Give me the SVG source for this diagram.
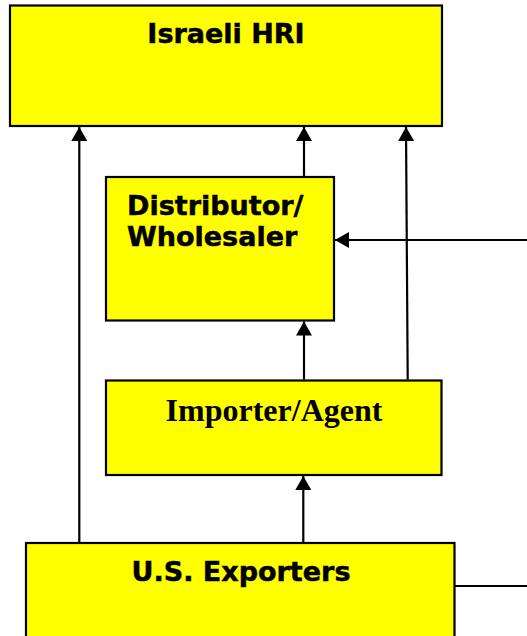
<svg xmlns="http://www.w3.org/2000/svg" width="527" height="636" viewBox="0 0 527 636">
<style>
.box{fill:#ffff00;stroke:#000;stroke-width:2.2}
.v{font-family:"DejaVu Sans",Verdana,sans-serif;font-weight:bold;font-size:27px;fill:#000;stroke:#000;stroke-width:0.5}
.t{font-family:"Liberation Serif","Times New Roman",serif;font-weight:bold;font-size:32px;fill:#000}
.c{stroke:#000;stroke-width:2.2;fill:none}
</style>
<defs>
<marker id="ah" viewBox="0 0 14 16" refX="14" refY="8" markerWidth="14" markerHeight="16" markerUnits="userSpaceOnUse" orient="auto">
<path d="M0,0 L14,8 L0,16 Z" fill="#000"/>
</marker>
</defs>
<rect width="527" height="636" fill="#fff"/>
<g id="israeli-hri">
<rect class="box" x="10" y="5.5" width="432" height="120.5"/>
<text class="v" x="226" y="43" text-anchor="middle">Israeli HRI</text>
</g>
<g id="distributor">
<rect class="box" x="106" y="177" width="228" height="143.5"/>
<text class="v" x="127" y="215">Distributor/</text>
<text class="v" x="127" y="246">Wholesaler</text>
</g>
<g id="importer">
<rect class="box" x="106" y="380.5" width="335.5" height="94.5"/>
<text class="t" x="274" y="420.5" text-anchor="middle">Importer/Agent</text>
</g>
<g id="us-exporters">
<rect class="box" x="26" y="543" width="428.5" height="100"/>
<text class="v" x="241" y="581" text-anchor="middle">U.S. Exporters</text>
</g>
<g id="connectors">
<line class="c" x1="79.3" y1="542" x2="79.3" y2="127" marker-end="url(#ah)"/>
<line class="c" x1="304" y1="176" x2="304" y2="127" marker-end="url(#ah)"/>
<line class="c" x1="407.7" y1="379.5" x2="406" y2="127" marker-end="url(#ah)"/>
<line class="c" x1="304" y1="379.5" x2="304" y2="321.5" marker-end="url(#ah)"/>
<line class="c" x1="303.3" y1="542" x2="303.3" y2="476" marker-end="url(#ah)"/>
<line class="c" x1="527" y1="240" x2="335" y2="240" marker-end="url(#ah)"/>
<line class="c" x1="455" y1="586" x2="527" y2="586"/>
</g>
</svg>
